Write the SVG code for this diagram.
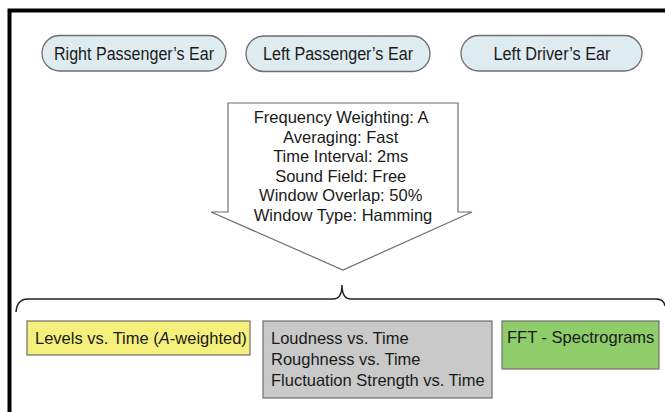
<svg xmlns="http://www.w3.org/2000/svg" width="665" height="412" viewBox="0 0 665 412">
<style>
text{font-family:"Liberation Sans",Arial,sans-serif;fill:#1a1a1a}
.pill{fill:#deebf0;stroke:#6e6e6e;stroke-width:1.3}
.t17{font-size:17.5px}
.t16{font-size:16.5px}
.box{stroke:#6e6e6e;stroke-width:1.2}
</style>
<rect x="0" y="0" width="665" height="412" fill="#ffffff"/>
<path d="M9.5 412 V10.5 H665" fill="none" stroke="#000" stroke-width="4"/>
<g id="node-right-passenger">
<rect class="pill" x="42" y="35.5" width="184" height="35.5" rx="17.75"/>
<text class="t17" x="134" y="59.5" text-anchor="middle" textLength="160" lengthAdjust="spacingAndGlyphs">Right Passenger’s Ear</text>
</g>
<g id="node-left-passenger">
<rect class="pill" x="246" y="36" width="184" height="35.5" rx="17.75"/>
<text class="t17" x="338" y="60" text-anchor="middle" textLength="150" lengthAdjust="spacingAndGlyphs">Left Passenger’s Ear</text>
</g>
<g id="node-left-driver">
<rect class="pill" x="461" y="35.5" width="181" height="35.5" rx="17.75"/>
<text class="t17" x="552" y="59.5" text-anchor="middle" textLength="117" lengthAdjust="spacingAndGlyphs">Left Driver’s Ear</text>
</g>
<g id="node-settings">
<polygon points="228,103 458,103 458,212 472,212 343,270 211,212 228,212" fill="#ffffff" stroke="#6e6e6e" stroke-width="1.2"/>
<text class="t16" text-anchor="middle" x="343">
<tspan x="343" y="123">Frequency Weighting: A</tspan>
<tspan x="343" y="142.5">Averaging: Fast</tspan>
<tspan x="343" y="162">Time Interval: 2ms</tspan>
<tspan x="343" y="181.5">Sound Field: Free</tspan>
<tspan x="343" y="201">Window Overlap: 50%</tspan>
<tspan x="343" y="220.5">Window Type: Hamming</tspan>
</text>
</g>
<g id="connectors">
<path d="M16 312 Q17 299 28 299 H333 Q342 299 342 285 Q342 299 351 299 H656 Q664 299 665 306" fill="none" stroke="#222" stroke-width="1.5"/>
</g>
<g id="node-levels">
<rect class="box" x="27" y="321" width="223" height="34" fill="#f5f07c"/>
<text class="t16" x="35" y="343.5">Levels vs. Time (<tspan font-style="italic">A</tspan>-weighted)</text>
</g>
<g id="node-psycho">
<rect class="box" x="263" y="321" width="229" height="77" fill="#c9c9c9"/>
<text class="t16">
<tspan x="271" y="343.5">Loudness vs. Time</tspan>
<tspan x="271" y="364.5">Roughness vs. Time</tspan>
<tspan x="271" y="385.5">Fluctuation Strength vs. Time</tspan>
</text>
</g>
<g id="node-fft">
<rect class="box" x="502" y="321" width="157" height="48" fill="#8ecd6a"/>
<text class="t16" x="507" y="342.5">FFT - Spectrograms</text>
</g>
</svg>
